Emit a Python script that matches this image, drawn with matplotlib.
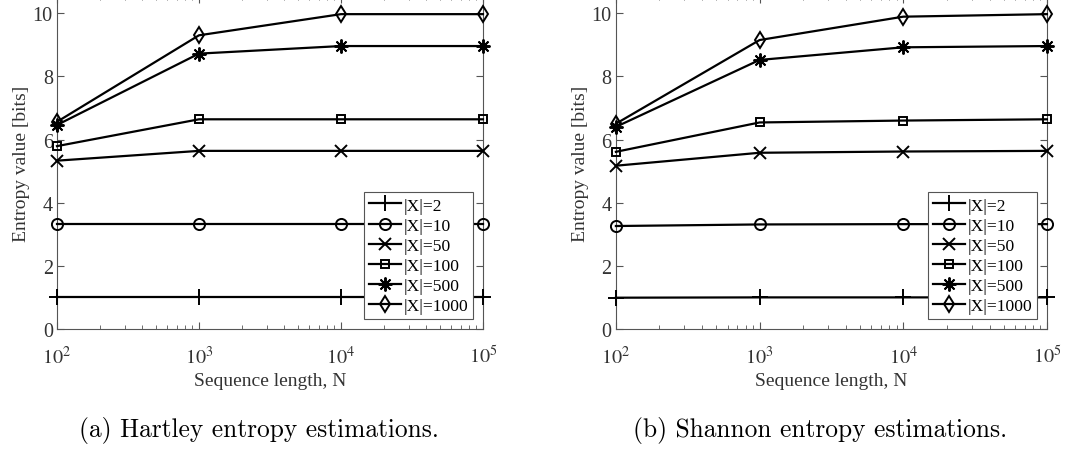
#!/usr/bin/env python3
# entropy_plots.py
# Hartley / Shannon entropy estimates vs sequence length, two panels side by side.

import numpy as np
import matplotlib
matplotlib.use('Agg')
import matplotlib.pyplot as plt

plt.rcParams['font.family'] = ['Liberation Serif', 'DejaVu Serif']
plt.rcParams['mathtext.fontset'] = 'stix'

# sequence lengths
seq_len = [1e2, 1e3, 1e4, 1e5]
alphabet_labels = ['|X|=2', '|X|=10', '|X|=50', '|X|=100', '|X|=500', '|X|=1000']
# MATLAB-like markers: plus, circle, cross, square, asterisk, diamond
markers = ['+', 'o', 'x', 's', (8, 2, 0), 'd']
marker_sizes = [11, 8, 9, 5.5, 10, 8]

# Hartley estimates (bits), one row per alphabet size
hartley_2 = [1.0, 1.0, 1.0, 1.0]
hartley_10 = [3.32, 3.32, 3.32, 3.32]
hartley_50 = [5.33, 5.64, 5.64, 5.64]
hartley_100 = [5.79, 6.64, 6.64, 6.64]
hartley_500 = [6.46, 8.72, 8.96, 8.96]
hartley_1000 = [6.56, 9.30, 9.97, 9.97]

# Shannon estimates (bits)
shannon_2 = [0.99, 1.0, 1.0, 1.0]
shannon_10 = [3.26, 3.31, 3.32, 3.32]
shannon_50 = [5.17, 5.58, 5.62, 5.64]
shannon_100 = [5.61, 6.54, 6.60, 6.64]
shannon_500 = [6.40, 8.52, 8.92, 8.96]
shannon_1000 = [6.50, 9.15, 9.89, 9.97]

hartley = [hartley_2, hartley_10, hartley_50, hartley_100, hartley_500, hartley_1000]
shannon = [shannon_2, shannon_10, shannon_50, shannon_100, shannon_500, shannon_1000]

AX_COLOR = '#555555'
TXT_COLOR = '#333333'


def draw_panel(ax, series):
    for vals, mk, ms, lab in zip(series, markers, marker_sizes, alphabet_labels):
        hollow = mk in ('o', 's', 'd')
        ax.plot(seq_len, vals, color='black', lw=1.6, marker=mk, ms=ms,
                mfc='none' if hollow else 'black', mec='black',
                mew=1.4, label=lab, clip_on=False, zorder=3)

    ax.set_xscale('log')
    ax.set_xlim(1e2, 1e5)
    ax.set_ylim(0, 10.55)
    ax.set_xticks([1e2, 1e3, 1e4, 1e5])
    ax.set_xticklabels([r'$10^{2}$', r'$10^{3}$', r'$10^{4}$', r'$10^{5}$'])
    ax.set_yticks([0, 2, 4, 6, 8, 10])
    ax.tick_params(which='both', direction='in', top=True, right=True,
                   color=AX_COLOR, labelcolor=TXT_COLOR, labelsize=14.5)
    ax.tick_params(which='major', length=5, width=0.8)
    ax.tick_params(which='minor', length=3, width=0.6)
    ax.tick_params(axis='x', pad=12)
    ax.tick_params(axis='y', pad=3)
    for sp in ax.spines.values():
        sp.set_color(AX_COLOR)
        sp.set_linewidth(0.8)

    ax.set_xlabel('Sequence length, N', fontsize=14, color=TXT_COLOR, labelpad=3)
    ax.set_ylabel('Entropy value [bits]', fontsize=14, color=TXT_COLOR, labelpad=2)

    leg = ax.legend(loc='lower right', fontsize=12.6, frameon=True, fancybox=False,
                    framealpha=1, edgecolor=AX_COLOR, handlelength=1.8,
                    handletextpad=0.15, labelspacing=0.22, borderpad=0.3,
                    borderaxespad=0.55)
    leg.get_frame().set_linewidth(0.8)


fig = plt.figure(figsize=(10.73, 4.52), dpi=100)
ax_a = fig.add_axes([0.0531, 0.27, 0.397, 0.737])
ax_b = fig.add_axes([0.574, 0.27, 0.4017, 0.737])

draw_panel(ax_a, hartley)
draw_panel(ax_b, shannon)

fig.text(0.2415, 0.048, '(a) Hartley entropy estimations.', fontfamily='cmr10',
         fontsize=18.3, ha='center', va='center')
fig.text(0.764, 0.048, '(b) Shannon entropy estimations.', fontfamily='cmr10',
         fontsize=18.3, ha='center', va='center')

fig.savefig('out.png', dpi=100)
